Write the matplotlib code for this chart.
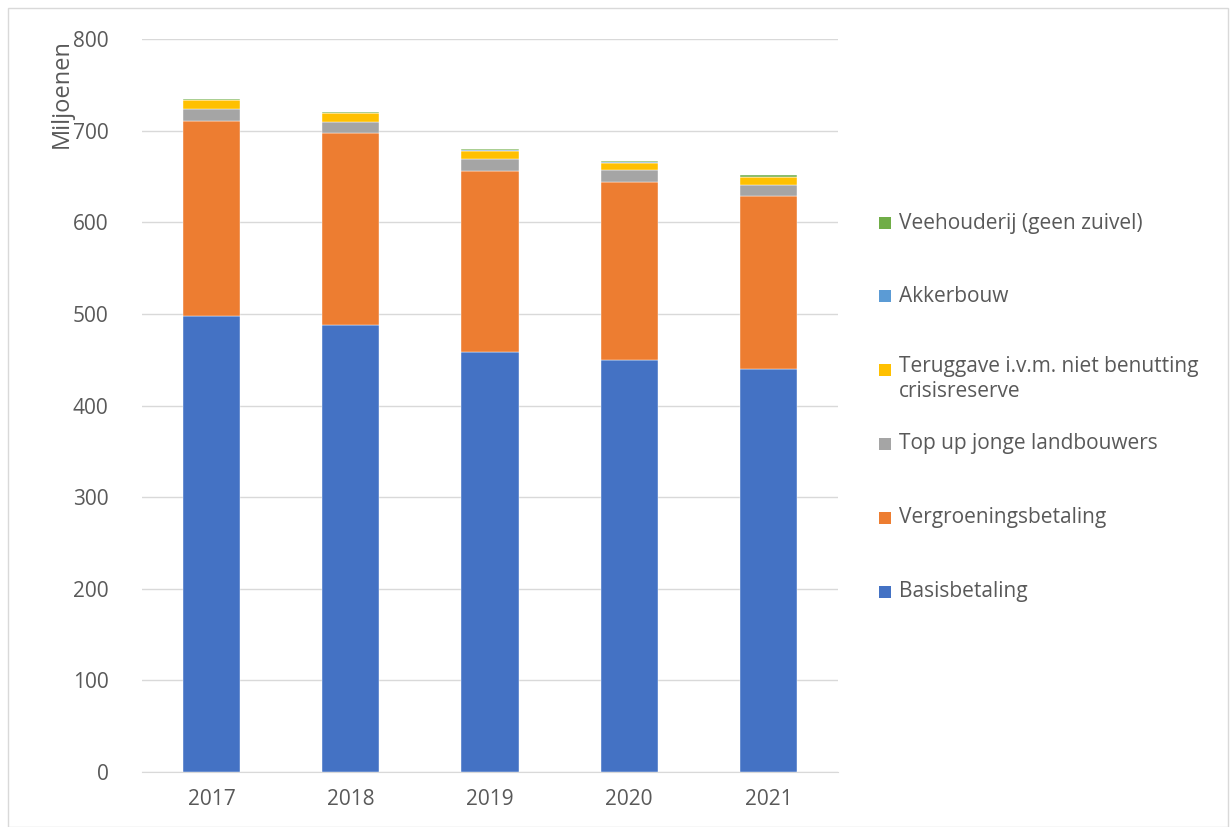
import numpy as np
import matplotlib.pyplot as plt
from matplotlib.patches import Rectangle

jaren = ['2017', '2018', '2019', '2020', '2021']
basis = [498, 488, 458.5, 450, 440]
vergroening = [213, 209, 197, 194, 189]
topup = [13, 12.6, 14, 12.5, 11.8]
teruggave = [9, 9.4, 8.7, 8.7, 8.8]
akkerbouw = [0.3, 0.3, 0.3, 0.3, 0.3]
veehouderij = [1.4, 1.4, 1.4, 1.2, 1.3]

series = [
    ('Basisbetaling', basis, '#4472C4'),
    ('Vergroeningsbetaling', vergroening, '#ED7D31'),
    ('Top up jonge landbouwers', topup, '#A5A5A5'),
    ('Teruggave i.v.m. niet benutting\ncrisisreserve', teruggave, '#FFC000'),
    ('Akkerbouw', akkerbouw, '#5B9BD5'),
    ('Veehouderij (geen zuivel)', veehouderij, '#70AD47'),
]

plt.rcParams['font.family'] = ['Open Sans', 'DejaVu Sans']
W, H = 1230, 827

fig = plt.figure(figsize=(W / 100, H / 100), dpi=100)
ax = fig.add_axes([142 / W, 1 - 772 / H, 696 / W, 733 / H])

x = np.arange(len(jaren))
bottom = np.zeros(len(jaren))
for naam, vals, kleur in series:
    ax.bar(x, vals, 0.41, bottom=bottom, color=kleur, edgecolor='white',
           linewidth=0.3, label=naam, zorder=3)
    bottom += np.array(vals)

ax.set_xlim(-0.5, 4.5)
ax.set_ylim(0, 800)
ax.set_yticks(range(0, 801, 100))
ax.set_xticks(x)
ax.set_xticklabels(jaren)
ax.grid(axis='y', color='#D9D9D9', linewidth=1, zorder=0)
for s in ['top', 'right', 'left']:
    ax.spines[s].set_visible(False)
ax.spines['bottom'].set_color('#D9D9D9')
ax.tick_params(length=0, labelsize=15, colors='#595959')
ax.tick_params(axis='y', pad=24)
ax.tick_params(axis='x', pad=12)
ax.set_ylabel('Miljoenen', fontsize=17, color='#595959', loc='top')
ax.yaxis.set_label_coords((74 - 142) / 696, 1.0)

# legenda rechts, omgekeerde volgorde, vaste afstand tussen regels
leg_y = [223, 296, 370, 444, 518, 592]
for (naam, vals, kleur), yp in zip(series[::-1], leg_y):
    fig.patches.append(Rectangle((879 / W, 1 - (yp + 6) / H), 12 / W, 12 / H,
                                 transform=fig.transFigure, facecolor=kleur,
                                 edgecolor='none'))
    if '\n' in naam:
        fig.text(899 / W, 1 - (yp - 14) / H, naam, fontsize=15, color='#595959',
                 va='top', linespacing=1.25)
    else:
        fig.text(899 / W, 1 - yp / H, naam, fontsize=15, color='#595959',
                 va='center')

# lichte rand rond de figuur
fig.patches.append(Rectangle((8 / W, 0), 1 - 10 / W, 1 - 8 / H,
                             transform=fig.transFigure, fill=False,
                             edgecolor='#D9D9D9', linewidth=1))

fig.savefig('out.png', dpi=100)
